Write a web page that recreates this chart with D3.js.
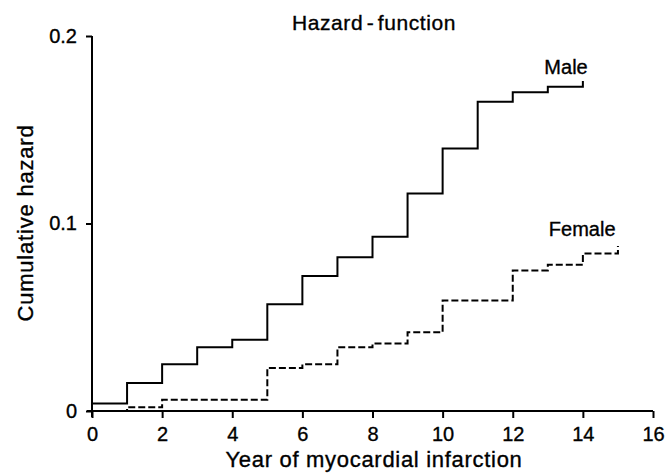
<!doctype html>
<html>
<head>
<meta charset="utf-8">
<title>Hazard-function</title>
<script src="https://cdn.jsdelivr.net/npm/d3@7"></script>
<style>
  body { margin: 0; background: #fff; }
  text { font-family: "Liberation Sans", Arial, sans-serif; fill: #000; stroke: #000; stroke-width: 0.35px; }
</style>
</head>
<body>
<div id="chart"></div>
<script>
  // step points: value holds from this year to the next one
  var maleYears = [0, 1, 2, 3, 4, 5, 6, 7, 8, 9, 10, 11, 12, 13, 14];
  var maleHazard = [0.004, 0.015, 0.025, 0.034, 0.038, 0.057, 0.072, 0.082, 0.093, 0.116, 0.140, 0.165, 0.170, 0.173, 0.176];
  var femaleYears = [0, 1, 2, 5, 6, 7, 8, 9, 10, 12, 13, 14, 15];
  var femaleHazard = [0, 0.002, 0.006, 0.023, 0.025, 0.034, 0.036, 0.042, 0.059, 0.075, 0.078, 0.084, 0.088];
  var xTicks = [0, 2, 4, 6, 8, 10, 12, 14, 16];
  var yTicks = [0, 0.1, 0.2];

  var W = 666, H = 474;
  var margin = {left: 92, top: 36, right: 13, bottom: 63};
  var width = W - margin.left - margin.right;
  var height = H - margin.top - margin.bottom;

  var svg = d3.select('#chart').append('svg')
      .attr('width', W)
      .attr('height', H);
  var g = svg.append('g')
      .attr('transform', 'translate(' + margin.left + ',' + margin.top + ')');

  var x = d3.scaleLinear().domain([0, 16]).range([0, width]);
  var y = d3.scaleLinear().domain([0, 0.2]).range([height, 0]);

  // axes
  var xAxis = g.append('g')
      .attr('transform', 'translate(0,' + height + ')')
      .call(d3.axisBottom(x).tickValues(xTicks).tickSize(7).tickSizeOuter(0).tickPadding(9).tickFormat(d3.format('d')));
  var yAxis = g.append('g')
      .call(d3.axisLeft(y).tickValues(yTicks).tickSize(6).tickSizeOuter(0).tickPadding(9)
        .tickFormat(function(d) { return d === 0 ? '0' : d3.format('.1f')(d); }));
  [xAxis, yAxis].forEach(function(a) {
    a.select('.domain').attr('stroke', '#000').attr('stroke-width', 2);
    a.selectAll('.tick line').attr('stroke', '#000').attr('stroke-width', 2);
    a.selectAll('.tick text').attr('font-size', '20px').style('font-family', '"Liberation Sans", Arial, sans-serif');
  });
  xAxis.select('.domain').attr('d', 'M-5,0H' + width);
  yAxis.select('.domain').attr('d', 'M0,' + (height + 6) + 'V0');

  var line = d3.line()
      .x(function(d) { return x(d[0]); })
      .y(function(d) { return y(d[1]); })
      .curve(d3.curveStepAfter);

  g.append('path')
      .datum(d3.zip(maleYears, maleHazard))
      .attr('fill', 'none')
      .attr('stroke', '#000')
      .attr('stroke-width', 2)
      .attr('d', line);

  g.append('path')
      .datum(d3.zip(femaleYears, femaleHazard))
      .attr('fill', 'none')
      .attr('stroke', '#000')
      .attr('stroke-width', 2)
      .attr('stroke-dasharray', '7,3')
      .attr('d', line);

  // labels
  g.append('text')
      .attr('x', x(13.52)).attr('y', y(0.1797))
      .attr('text-anchor', 'middle').attr('font-size', '20px')
      .text('Male');
  g.append('text')
      .attr('x', x(13.98)).attr('y', y(0.0936))
      .attr('text-anchor', 'middle').attr('font-size', '20px')
      .text('Female');

  svg.append('text')
      .attr('x', 374).attr('y', 30)
      .attr('text-anchor', 'middle').attr('font-size', '21px')
      .attr('letter-spacing', '0.6px').attr('word-spacing', '-3px')
      .text('Hazard - function');
  svg.append('text')
      .attr('x', 374).attr('y', 467)
      .attr('text-anchor', 'middle').attr('font-size', '22px')
      .attr('letter-spacing', '0.7px')
      .text('Year of myocardial infarction');
  svg.append('text')
      .attr('transform', 'translate(33,223) rotate(-90)')
      .attr('text-anchor', 'middle').attr('font-size', '22px')
      .attr('letter-spacing', '0.8px')
      .text('Cumulative hazard');
</script>
</body>
</html>
